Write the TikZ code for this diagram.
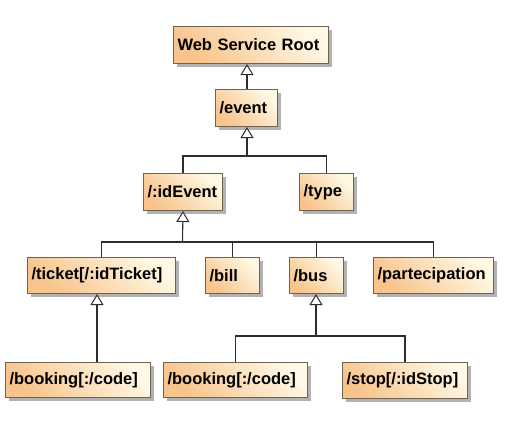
\documentclass[tikz,border=0pt]{standalone}
\usepackage{fontspec}
\setmainfont{Liberation Sans}
\usetikzlibrary{arrows.meta,shadows}
\definecolor{boxorange}{HTML}{F8C48C}
\definecolor{boxcream}{HTML}{FFF8E4}
\definecolor{boxline}{HTML}{6E6250}
\definecolor{conn}{HTML}{2E2E2E}
\tikzset{
  cls/.style={draw=boxline, line width=1pt, anchor=north west,
    top color=boxcream, bottom color=boxorange, shading angle=-45,
    inner xsep=4pt, inner ysep=0pt, align=left,
    font=\fontsize{16.5}{18}\selectfont\bfseries,
    drop shadow={shadow xshift=3pt, shadow yshift=-3pt, opacity=0.3, fill=black}},
  gen/.style={draw=conn, line width=1.1pt,
    -{Triangle[open, width=13pt, length=11pt, line width=1pt, fill=white]}},
  link/.style={draw=conn, line width=1.1pt}
}
\newcommand{\umlbox}[6]{% name, x1, y1, x2, y2, text
  \pgfmathsetmacro{\bw}{#4-#2}\pgfmathsetmacro{\bh}{#5-#3}\pgfmathsetmacro{\tw}{#4-#2-8}
  \node[cls, minimum width=\bw pt, minimum height=\bh pt, text width=\tw pt] (#1) at (#2,#3) {#6};}
\begin{document}
\begin{tikzpicture}[x=1pt, y=-1pt]
\useasboundingbox[fill=white] (0,0) rectangle (523,437);
\umlbox{root}{173}{26}{328}{63}{Web Service Root}
\umlbox{event}{215}{89}{277}{126}{/event}
\umlbox{idevent}{143}{173}{222}{210}{/:idEvent}
\umlbox{type}{299}{173}{353}{210}{/type}
\umlbox{ticket}{27}{257}{175}{293}{/ticket[/:idTicket]}
\umlbox{bill}{205}{257}{259}{293}{/bill}
\umlbox{bus}{289}{257}{343}{293}{/bus}
\umlbox{part}{373}{257}{493}{293}{/partecipation}
\umlbox{bookingA}{5}{362}{150}{397}{/booking[:/code]}
\umlbox{bookingB}{163}{362}{307}{397}{/booking[:/code]}
\umlbox{stop}{342}{362}{467}{398}{/stop[/:idStop]}
% event -> root
\coordinate (e1) at (247,89);
\draw[gen] (e1) -- (e1 |- root.south);
% level 2
\coordinate (bar1) at (247,156);
\draw[link] (idevent.north) |- (bar1);
\draw[link] (type.north) |- (bar1);
\draw[gen] (bar1) -- (bar1 |- event.south);
% level 3
\coordinate (bar2) at (182.5,242);
\draw[link] (ticket.north) |- (bar2);
\draw[link] (bill.north) |- (bar2);
\draw[link] (bus.north) |- (bar2);
\draw[link] (part.north) |- (bar2);
\draw[gen] (bar2) -- (idevent.south);
% ticket -> booking
\coordinate (t1) at (97,362);
\draw[gen] (t1) -- (t1 |- ticket.south);
% bus children
\coordinate (bar3) at (316,336);
\draw[link] (bookingB.north) |- (bar3);
\draw[link] (stop.north) |- (bar3);
\draw[gen] (bar3) -- (bar3 |- bus.south);
\end{tikzpicture}
\end{document}
